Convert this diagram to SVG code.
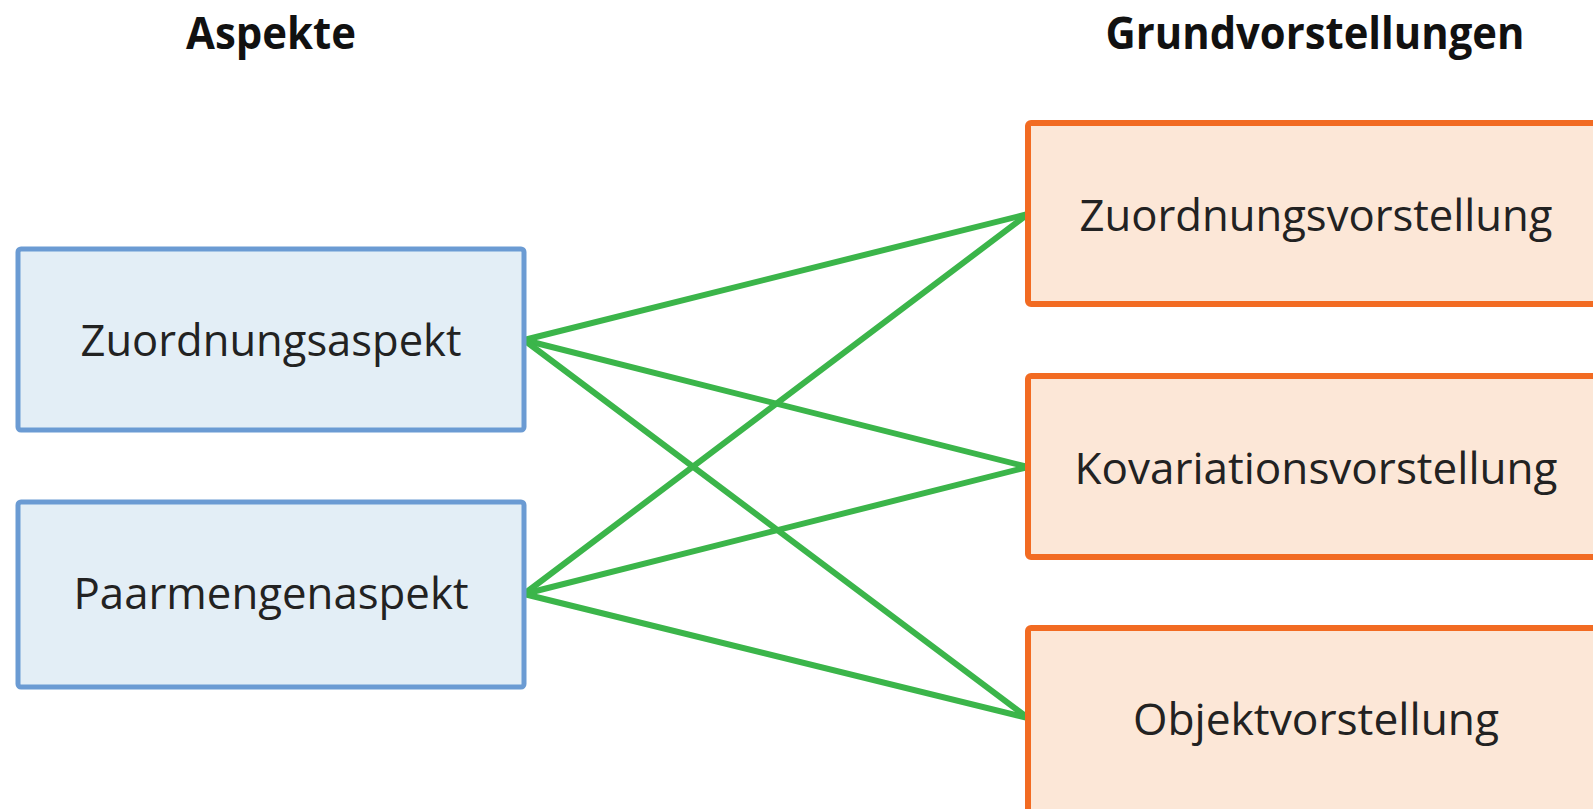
<svg xmlns="http://www.w3.org/2000/svg" width="1593" height="809" viewBox="0 0 1593 809">
<style>
.bg{fill:#ffffff}
.aspect rect{fill:#e3eef6;stroke:#6b9bd3;stroke-width:5}
.gv rect{fill:#fce7d7;stroke:#f26b22;stroke-width:6}
text{font-family:"Open Sans","Liberation Sans",sans-serif;fill:#222222;text-anchor:middle}
.lbl{font-size:43px}
.head{font-size:44px;font-weight:bold;fill:#111111}
#connectors line{stroke:#3bb54a;stroke-width:6;stroke-linecap:round}
</style>
<rect class="bg" x="0" y="0" width="1593" height="809"/>
<text class="head" x="271" y="49" textLength="170" lengthAdjust="spacingAndGlyphs">Aspekte</text>
<text class="head" x="1315" y="49" textLength="419" lengthAdjust="spacingAndGlyphs">Grundvorstellungen</text>
<g id="connectors">
<line x1="524" y1="340" x2="1028" y2="214"/>
<line x1="524" y1="340" x2="1028" y2="467"/>
<line x1="524" y1="340" x2="1028" y2="718"/>
<line x1="524" y1="594" x2="1028" y2="214"/>
<line x1="524" y1="594" x2="1028" y2="467"/>
<line x1="524" y1="594" x2="1028" y2="718"/>
</g>
<g id="zuordnungsaspekt" class="aspect">
<rect x="18" y="249" width="506" height="181" rx="3"/>
<text class="lbl" x="271" y="356" textLength="381" lengthAdjust="spacingAndGlyphs">Zuordnungsaspekt</text>
</g>
<g id="paarmengenaspekt" class="aspect">
<rect x="18" y="502" width="506" height="185" rx="3"/>
<text class="lbl" x="271" y="609" textLength="395" lengthAdjust="spacingAndGlyphs">Paarmengenaspekt</text>
</g>
<g id="zuordnungsvorstellung" class="gv">
<rect x="1028" y="123" width="580" height="181" rx="3"/>
<text class="lbl" x="1316" y="231" textLength="473" lengthAdjust="spacingAndGlyphs">Zuordnungsvorstellung</text>
</g>
<g id="kovariationsvorstellung" class="gv">
<rect x="1028" y="376" width="580" height="181" rx="3"/>
<text class="lbl" x="1316" y="484" textLength="483" lengthAdjust="spacingAndGlyphs">Kovariationsvorstellung</text>
</g>
<g id="objektvorstellung" class="gv">
<rect x="1028" y="628" width="580" height="190" rx="3"/>
<text class="lbl" x="1316" y="735" textLength="366" lengthAdjust="spacingAndGlyphs">Objektvorstellung</text>
</g>
</svg>
